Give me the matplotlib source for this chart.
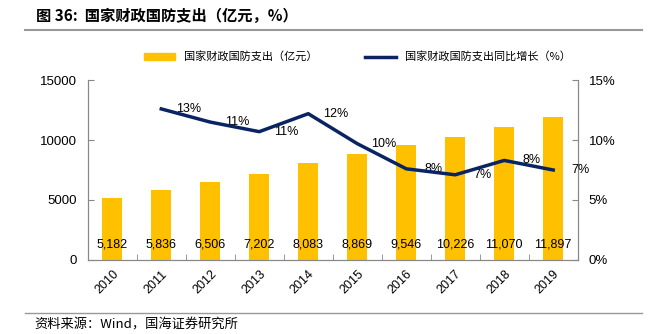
import matplotlib
matplotlib.use("Agg")
import matplotlib.pyplot as plt
from matplotlib.lines import Line2D
from matplotlib.patches import Patch

plt.rcParams['font.family'] = ['Liberation Sans', 'Noto Sans CJK SC', 'DejaVu Sans']

years = ['2010', '2011', '2012', '2013', '2014', '2015', '2016', '2017', '2018', '2019']
spend = [5182, 5836, 6506, 7202, 8083, 8869, 9546, 10226, 11070, 11897]
growth_years = years[1:]
growth = [12.6, 11.5, 10.7, 12.2, 9.7, 7.6, 7.1, 8.3, 7.5]
growth_labels = ['13%', '11%', '11%', '12%', '10%', '8%', '7%', '8%', '7%']

bar_color = '#FFC000'
line_color = '#0A2463'
cjk = ['Noto Sans CJK SC', 'DejaVu Sans']

fig = plt.figure(figsize=(6.55, 3.34), dpi=100)
ax = fig.add_axes([0.134, 0.222, 0.748, 0.538])
ax2 = ax.twinx()

x = list(range(len(years)))
ax.bar(x, spend, width=0.4, color=bar_color, zorder=2)
for xi, v in zip(x, spend):
    ax.text(xi, 1250, f'{v:,}', ha='center', va='center', fontsize=9, zorder=5)

gx = [years.index(y) for y in growth_years]
ax2.plot(gx, growth, color=line_color, lw=2.5, zorder=4)
for xi, v, lab in zip(gx, growth, growth_labels):
    ax2.text(xi + 0.55, v, lab, ha='center', va='center', fontsize=9)

ax.set_xlim(-0.5, len(years) - 0.5)
ax.set_ylim(0, 15000)
ax.set_yticks([0, 5000, 10000, 15000])
ax2.set_ylim(0, 15)
ax2.set_yticks([0, 5, 10, 15])
ax2.set_yticklabels(['0%', '5%', '10%', '15%'])

ax.set_xticks(x)
ax.set_xticklabels(years, rotation=45, ha='right', rotation_mode='anchor', fontsize=9)
ax.tick_params(axis='x', length=0, pad=6)
ax.set_xticks([i + 0.5 for i in x[:-1]], minor=True)
ax.tick_params(axis='x', which='minor', length=4, direction='in', color='#888888')
ax.tick_params(axis='y', direction='in', length=4, color='#888888', labelsize=9.5, pad=8)
ax2.tick_params(axis='y', direction='in', length=4, color='#888888', labelsize=9.5, pad=8)

for a in (ax, ax2):
    a.spines['top'].set_visible(False)
    for s in ('left', 'right', 'bottom'):
        a.spines[s].set_color('#888888')
        a.spines[s].set_linewidth(0.8)

handles = [Patch(color=bar_color), Line2D([0], [0], color=line_color, lw=2.5)]
fig.legend(handles, ['国家财政国防支出（亿元）', '国家财政国防支出同比增长（%）'],
           loc='center left', bbox_to_anchor=(0.22, 0.83), ncol=2, frameon=False,
           prop={'family': cjk, 'size': 8}, handlelength=2.8, columnspacing=4.3,
           handleheight=0.6, borderaxespad=0, borderpad=0)

fig.text(0.055, 0.952, '图 36:  国家财政国防支出（亿元，%）', fontsize=11, fontweight='bold',
         family=cjk, va='center')
fig.add_artist(Line2D([0.038, 0.98], [0.91, 0.91], color='#999999', lw=1.5))
fig.add_artist(Line2D([0.038, 0.98], [0.063, 0.063], color='#999999', lw=1))
fig.text(0.052, 0.028, '资料来源：Wind，国海证券研究所', fontsize=9.5, family=cjk, va='center')

fig.savefig('out.png', dpi=100)
